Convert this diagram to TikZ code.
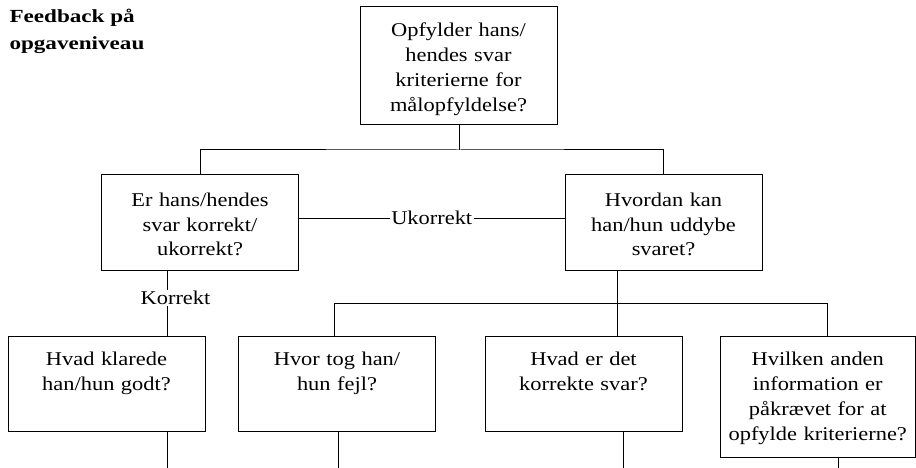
\documentclass[tikz,border=0pt]{standalone}
\usepackage{fontspec}
\setmainfont{Liberation Serif}
\newfontfamily\bodyfont[FakeStretch=1.15]{Liberation Serif}
\newfontfamily\titlefont[FakeStretch=1.25]{Liberation Serif}
\usetikzlibrary{calc}
\newcommand\mystrut{\rule{0pt}{15pt}}
\begin{document}
\begin{tikzpicture}[x=1pt,y=-1pt,line width=1pt,
  box/.style={draw,rectangle,inner sep=0pt,minimum width=197pt},
  txt/.style={anchor=north,inner sep=0pt,text width=190pt,align=center,
    font=\bodyfont\fontsize{19.5}{25}\selectfont},
  lbl/.style={fill=white,inner sep=1.5pt,font=\bodyfont\fontsize{19.5}{25}\selectfont},
  ttl/.style={anchor=base west,inner sep=0pt,font=\titlefont\bfseries\fontsize{18.5}{27}\selectfont}]
\useasboundingbox (0,0) rectangle (916,468);
% title
\node[ttl] (t1) at (9,23) {Feedback på};
\node[ttl] (t2) at (9,50) {opgaveniveau};
% boxes
\node[box,minimum height=118pt] (top) at (458.5,66) {};
\node[box,minimum height=95pt] (L) at (200,222.5) {};
\node[box,minimum height=95pt] (R) at (663.5,222.5) {};
\node[box,minimum height=95pt] (b1) at (106.5,383.5) {};
\node[box,minimum height=95pt] (b2) at (337,383.5) {};
\node[box,minimum height=95pt] (b3) at (583.5,383.5) {};
\node[box,minimum height=121pt,minimum width=195.5pt] (b4) at (817.75,396.5) {};
% texts
\node[txt] (ttop) at ($(top.north)+(0,15)$) {\mystrut Opfylder hans/\\hendes svar\\kriterierne for\\målopfyldelse?};
\node[txt] (tL) at ($(L.north)+(0,16)$) {\mystrut Er hans/hendes\\svar korrekt/\\ukorrekt?};
\node[txt] (tR) at ($(R.north)+(0,16)$) {\mystrut Hvordan kan\\han/hun uddybe\\svaret?};
\node[txt] (tb1) at ($(b1.north)+(0,14.5)$) {\mystrut Hvad klarede\\han/hun godt?};
\node[txt] (tb2) at ($(b2.north)+(0,14.5)$) {\mystrut Hvor tog han/\\hun fejl?};
\node[txt] (tb3) at ($(b3.north)+(0,14.5)$) {\mystrut Hvad er det\\korrekte svar?};
\node[txt] (tb4) at ($(b4.north)+(0,14.5)$) {\mystrut Hvilken anden\\information er\\påkrævet for at\\opfylde kriterierne?};
% connectors top level
\coordinate (j1) at (459,150);
\draw (top.south -| j1) -- (j1);
\draw (L.north) |- (j1) -| (R.north);
% Ukorrekt
\draw ($(L.east)+(0,-4.5)$) -- node[lbl]{Ukorrekt} ($(R.west)+(0,-4.5)$);
% Korrekt
\coordinate (k) at (167,300);
\draw (k |- L.south) -- (k |- b1.north);
\node[lbl] (kl) at (175.5,298) {Korrekt};
% right branch
\coordinate (h1) at (334,303);
\coordinate (h2) at (827,303);
\coordinate (rj) at (617,303);
\draw (h1) -- (h2);
\draw (rj |- R.south) -- (rj |- b3.north);
\draw (h1) -- (h1 |- b2.north);
\draw (h2) -- (h2 |- b4.north);
% bottom stubs
\coordinate (e1) at (167,468);
\coordinate (e2) at (338,468);
\coordinate (e3) at (623,468);
\coordinate (e4) at (838,468);
\draw (e1 |- b1.south) -- (e1);
\draw (e2 |- b2.south) -- (e2);
\draw (e3 |- b3.south) -- (e3);
\draw (e4 |- b4.south) -- (e4);
\end{tikzpicture}
\end{document}
